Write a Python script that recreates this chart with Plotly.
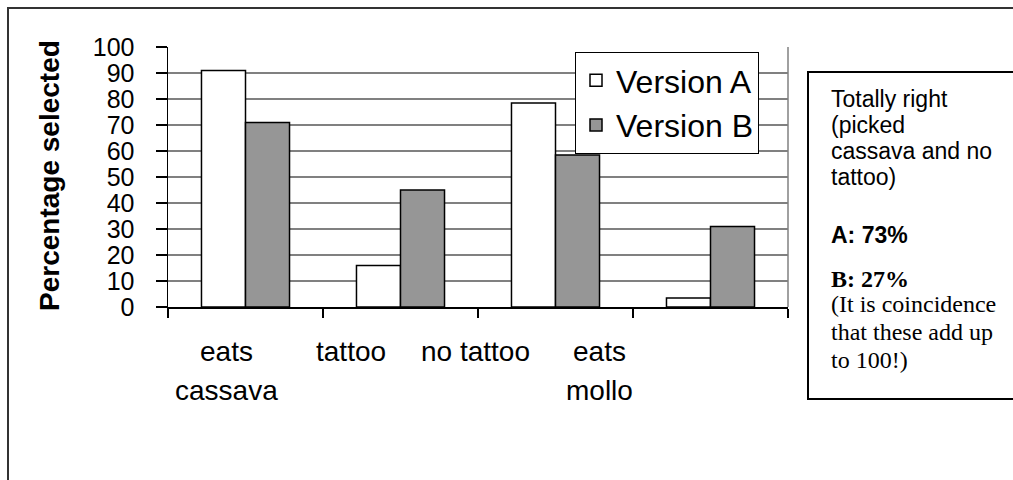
import plotly.graph_objects as go

# ---- data ----
categories = ["eats cassava", "tattoo", "no tattoo", "eats mollo"]
category_labels = [["eats", "cassava"], ["tattoo"], ["no tattoo"], ["eats", "mollo"]]
version_a = [91, 16, 78.5, 3.5]
version_b = [71, 45, 58.5, 31]
series_names = ["Version A", "Version B"]
y_ticks = list(range(0, 101, 10))
y_title = "Percentage selected"
note_lines_sans = ["Totally right", "(picked", "cassava and no", "tattoo)"]
note_a = "A: 73%"
note_b = "B: 27%"
note_lines_serif = ["(It is coincidence", "that these add up", "to 100!)"]

# ---- geometry (pixels) ----
W, H = 1013, 480
L, R_PX, T, B_PX = 168, 788, 47, 307
PW, PH = R_PX - L, B_PX - T


def X(px):
    return (px - L) / PW


def Y(py):
    return (B_PX - py) / PH


SANS = "Liberation Sans, Arial, sans-serif"
SERIF = "Liberation Serif, Times New Roman, serif"

fig = go.Figure()
fig.add_trace(go.Bar(x=categories, y=version_a, name=series_names[0],
                     marker=dict(color="#ffffff", line=dict(color="#000000", width=1.5))))
fig.add_trace(go.Bar(x=categories, y=version_b, name=series_names[1],
                     marker=dict(color="#969696", line=dict(color="#000000", width=1.5))))

fig.update_layout(
    width=W, height=H,
    margin=dict(l=L, r=W - R_PX, t=T, b=H - B_PX, autoexpand=False),
    paper_bgcolor="#ffffff", plot_bgcolor="#ffffff",
    barmode="group", bargap=0.432, bargroupgap=0,
    font=dict(family=SANS, color="#000000"),
    legend=dict(x=X(575), y=Y(52), xanchor="left", yanchor="top",
                bgcolor="#ffffff", bordercolor="#000000", borderwidth=1,
                font=dict(family=SANS, size=32), tracegroupgap=0,
                itemclick=False, itemdoubleclick=False),
    showlegend=True,
)

fig.update_xaxes(type="category", range=[-0.5, 3.5], tickson="boundaries",
                 ticks="outside", ticklen=9, tickwidth=1.5, tickcolor="#000000",
                 showline=True, linecolor="#000000", linewidth=1.5,
                 showgrid=False, showticklabels=False, zeroline=False, fixedrange=True)
fig.update_yaxes(range=[0, 100], tickvals=y_ticks, ticktext=[str(v) for v in y_ticks],
                 ticks="outside", ticklen=11, tickwidth=1.5, tickcolor="#000000",
                 showline=True, linecolor="#000000", linewidth=1.5,
                 showgrid=True, gridcolor="#808080", gridwidth=1.3, zeroline=False,
                 tickfont=dict(family=SANS, size=25), ticklabelstandoff=16, fixedrange=True)

shapes = []
# right border of plot area
shapes.append(dict(type="line", xref="paper", yref="paper", x0=1, x1=1, y0=0, y1=1,
                   line=dict(color="#808080", width=1.5), layer="below"))
# outer frame
shapes.append(dict(type="rect", xref="paper", yref="paper", x0=X(8), x1=X(1030),
                   y0=Y(500), y1=Y(8), line=dict(color="#333333", width=2), layer="below"))
# note box
shapes.append(dict(type="rect", xref="paper", yref="paper", x0=X(808), x1=X(1030),
                   y0=Y(399), y1=Y(72), line=dict(color="#000000", width=2),
                   fillcolor="#ffffff", layer="above"))

annotations = []
# x category labels (placed as in the reference)
label_centers_px = [226, 351, 475, 599]
first_line_mid_px = 351
line_pitch = 39
for cx, lines in zip(label_centers_px, category_labels):
    for j, ln in enumerate(lines):
        annotations.append(dict(text=ln, xref="paper", yref="paper", x=X(cx),
                                y=Y(first_line_mid_px + j * line_pitch),
                                xanchor="center", yanchor="middle", showarrow=False,
                                font=dict(family=SANS, size=28)))
# y-axis title
annotations.append(dict(text="<b>" + y_title + "</b>", xref="paper", yref="paper",
                        x=X(49), y=Y(176), xanchor="center", yanchor="middle",
                        textangle=-90, showarrow=False,
                        font=dict(family=SANS, size=28)))


def note(text, baseline, fam, size, bold=False):
    t = "<b>" + text + "</b>" if bold else text
    annotations.append(dict(text=t, xref="paper", yref="paper", x=X(829),
                            y=Y(baseline - 0.36 * size), xanchor="left", yanchor="middle",
                            showarrow=False, font=dict(family=fam, size=size)))


for ln, bl in zip(note_lines_sans, [107, 133, 159, 185]):
    note(ln, bl, SANS, 23)
note(note_a, 243, SANS, 23, bold=True)
note(note_b, 288, SERIF, 24, bold=True)
for ln, bl in zip(note_lines_serif, [313, 341, 369]):
    note(ln, bl, SERIF, 24)

fig.update_layout(shapes=shapes, annotations=annotations)

fig.write_html("out.html", config=dict(displayModeBar=False, staticPlot=True))
